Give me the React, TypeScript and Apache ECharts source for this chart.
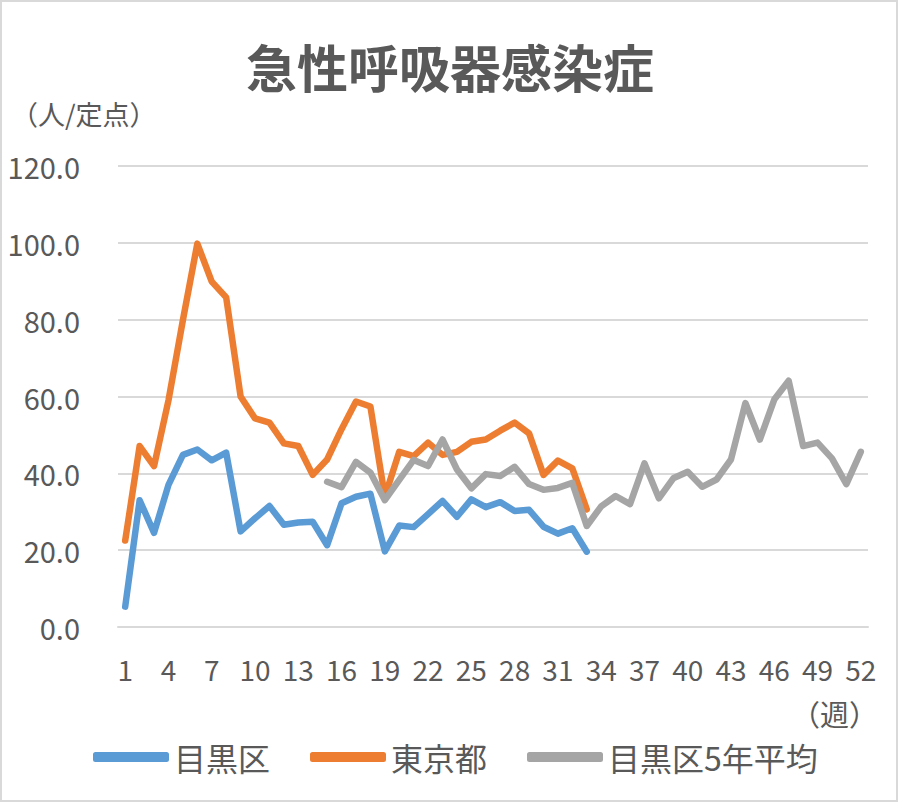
import { useEffect, useRef } from "react";
import * as echarts from "echarts";

// 週番号 1〜52
const WEEKS = Array.from({ length: 52 }, (_, i) => String(i + 1));

const MEGURO = [
  5.3, 33.0, 24.5, 37.0, 44.8, 46.2, 43.4, 45.4, 24.9, 28.3, 31.5, 26.6, 27.2,
  27.4, 21.3, 32.2, 33.9, 34.7, 19.7, 26.4, 26.0, 29.4, 32.8, 28.7, 33.2, 31.2,
  32.5, 30.2, 30.5, 26.1, 24.3, 25.7, 19.6,
];

const TOKYO = [
  22.5, 47.1, 41.9, 59.0, 79.9, 99.8, 89.9, 85.8, 60.0, 54.3, 53.2, 47.8, 47.1,
  39.6, 43.6, 51.5, 58.7, 57.4, 33.9, 45.6, 44.5, 48.0, 44.8, 45.6, 48.2, 48.8,
  51.1, 53.2, 50.4, 39.6, 43.3, 41.3, 30.6,
];

// 5年平均は第15週から
const MEGURO_AVG: (number | null)[] = [
  null, null, null, null, null, null, null, null, null, null, null, null, null, null,
  37.8, 36.4, 43.0, 40.2, 33.0, 38.3, 43.5, 41.9, 48.8, 41.0,
  36.1, 39.8, 39.3, 41.7, 37.2, 35.7, 36.2, 37.5, 26.3, 31.4,
  34.1, 32.0, 42.6, 33.5, 38.7, 40.4, 36.5, 38.4, 43.6, 58.3,
  48.8, 59.2, 64.1, 47.1, 48.0, 43.9, 37.2, 45.6,
];

const FONT = '"Noto Sans CJK JP", "Noto Sans", sans-serif';
const TEXT = "#595959";

export default function App() {
  const chartRef = useRef<HTMLDivElement>(null);

  useEffect(() => {
    if (!chartRef.current) return;
    const chart = echarts.init(chartRef.current, null, { renderer: "svg" });

    const lineSeries = (name: string, data: (number | null)[], color: string) => ({
      name,
      type: "line" as const,
      data,
      symbol: "none",
      showSymbol: false,
      connectNulls: false,
      itemStyle: { color },
      lineStyle: { color, width: 6.5, cap: "round", join: "round" },
    });

    chart.setOption({
      animation: false,
      textStyle: { fontFamily: FONT },
      title: {
        text: "急性呼吸器感染症",
        left: "center",
        top: 35,
        textStyle: { fontFamily: FONT, fontSize: 51, fontWeight: "bold", color: TEXT },
      },
      graphic: [
        {
          type: "rect",
          shape: { x: 1, y: 1, width: 896, height: 800 },
          style: { fill: "none", stroke: "#D9D9D9", lineWidth: 2 },
        },
        {
          type: "text",
          x: 11,
          y: 113,
          style: {
            text: "（人/定点）",
            font: `27px ${FONT}`,
            fill: TEXT,
            verticalAlign: "middle",
          },
        },
        {
          type: "text",
          x: 878,
          y: 713,
          style: {
            text: "（週）",
            font: `29px ${FONT}`,
            fill: TEXT,
            align: "right",
            verticalAlign: "middle",
          },
        },
      ],
      legend: {
        left: 88,
        top: 736,
        icon: "roundRect",
        itemWidth: 76,
        itemHeight: 10,
        itemGap: 40,
        textStyle: { fontFamily: FONT, fontSize: 32, color: TEXT },
        data: ["目黒区", "東京都", "目黒区5年平均"],
      },
      grid: { left: 118, right: 32, top: 166, bottom: 177 },
      xAxis: {
        type: "category",
        data: WEEKS,
        boundaryGap: true,
        axisLine: { show: true, lineStyle: { color: "#D9D9D9", width: 2 } },
        axisTick: { show: false },
        axisLabel: {
          interval: 2,
          margin: 28,
          fontFamily: FONT,
          fontSize: 28,
          color: TEXT,
        },
      },
      yAxis: {
        type: "value",
        min: 0,
        max: 120,
        interval: 20,
        axisLine: { show: false },
        axisTick: { show: false },
        splitLine: { lineStyle: { color: "#D9D9D9", width: 2 } },
        axisLabel: {
          margin: 38,
          fontFamily: FONT,
          fontSize: 29,
          color: TEXT,
          formatter: (v: number) => v.toFixed(1),
        },
      },
      series: [
        lineSeries("目黒区", MEGURO, "#5B9BD5"),
        lineSeries("東京都", TOKYO, "#ED7D31"),
        lineSeries("目黒区5年平均", MEGURO_AVG, "#A5A5A5"),
      ],
    });

    return () => {
      chart.dispose();
    };
  }, []);

  return (
    <div
      ref={chartRef}
      style={{ position: "absolute", left: 0, top: 0, width: 900, height: 804, background: "#fff" }}
    />
  );
}
